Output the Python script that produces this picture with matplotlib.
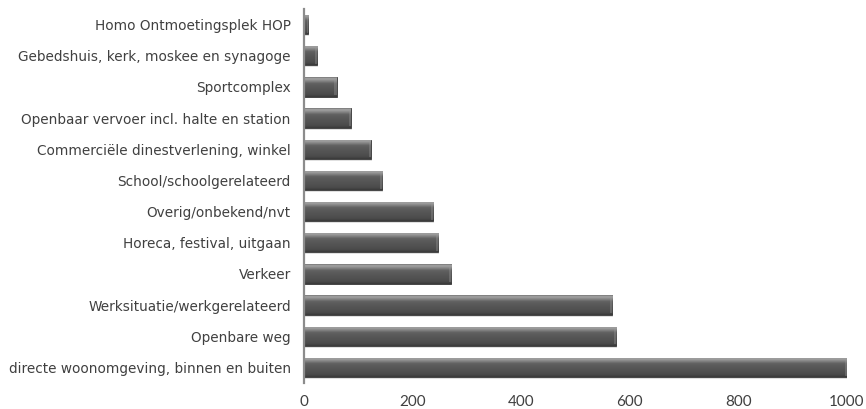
import numpy as np
import matplotlib
matplotlib.use("Agg")
import matplotlib.pyplot as plt
from matplotlib.colors import LinearSegmentedColormap

# Data (bottom to top)
categories = [
    "directe woonomgeving, binnen en buiten",
    "Openbare weg",
    "Werksituatie/werkgerelateerd",
    "Verkeer",
    "Horeca, festival, uitgaan",
    "Overig/onbekend/nvt",
    "School/schoolgerelateerd",
    "Commerciële dinestverlening, winkel",
    "Openbaar vervoer incl. halte en station",
    "Sportcomplex",
    "Gebedshuis, kerk, moskee en synagoge",
    "Homo Ontmoetingsplek HOP",
]
values = [1000, 575, 568, 271, 247, 238, 144, 123, 86, 60, 24, 8]
xticks = [0, 200, 400, 600, 800, 1000]

fig = plt.figure(figsize=(8.66, 4.09), dpi=100)
ax = fig.add_axes([304/866, 1-383/409, (847-304)/866, (383-9)/409])

bar_h = 0.62
ypos = np.arange(len(categories))

# gradient colormap for bars (top -> bottom)
stops = [(0.0, "#6a6a6a"), (0.06, "#aaaaaa"), (0.16, "#8e8e8e"),
         (0.32, "#606060"), (0.6, "#555555"), (0.9, "#4a4a4a"), (1.0, "#383838")]
cmap = LinearSegmentedColormap.from_list("bevel", stops)
grad = np.linspace(0, 1, 64).reshape(-1, 1)

for y, v in zip(ypos, values):
    # soft shadow
    ax.barh(y - 0.06, v + 1.5, height=bar_h, left=0, color="#000000",
            alpha=0.12, linewidth=0, zorder=1)
    bar = ax.barh(y, v, height=bar_h, color="#555555", edgecolor="#3a3a3a",
                  linewidth=0.6, zorder=2)[0]
    im = ax.imshow(grad, cmap=cmap, aspect="auto", interpolation="bicubic",
                   extent=(0, v, y - bar_h / 2, y + bar_h / 2),
                   origin="upper", zorder=3)
    im.set_clip_path(bar)
    # right end bevel
    bw = min(4.0, v * 0.4)
    ax.barh(y, bw, height=bar_h * 0.85, left=v - bw,
            color="#9a9a9a", alpha=0.35, linewidth=0, zorder=4)

ax.set_xlim(0, 1000)
ax.set_ylim(-0.5, len(categories) - 0.5)
ax.set_yticks(ypos)
ax.set_yticklabels(categories)
ax.set_xticks(xticks)
ax.set_xticklabels([str(t) for t in xticks], family="Lato")

for s in ["top", "right", "bottom"]:
    ax.spines[s].set_visible(False)
ax.spines["left"].set_color("#8c8c8c")
ax.spines["left"].set_linewidth(1.6)
ax.spines["left"].set_zorder(6)

ax.tick_params(axis="y", length=0, pad=9.5, labelsize=9.8, labelcolor="#404040")
ax.tick_params(axis="x", length=0, pad=9, labelsize=11, labelcolor="#404040")

fig.savefig("out.png", dpi=100)
